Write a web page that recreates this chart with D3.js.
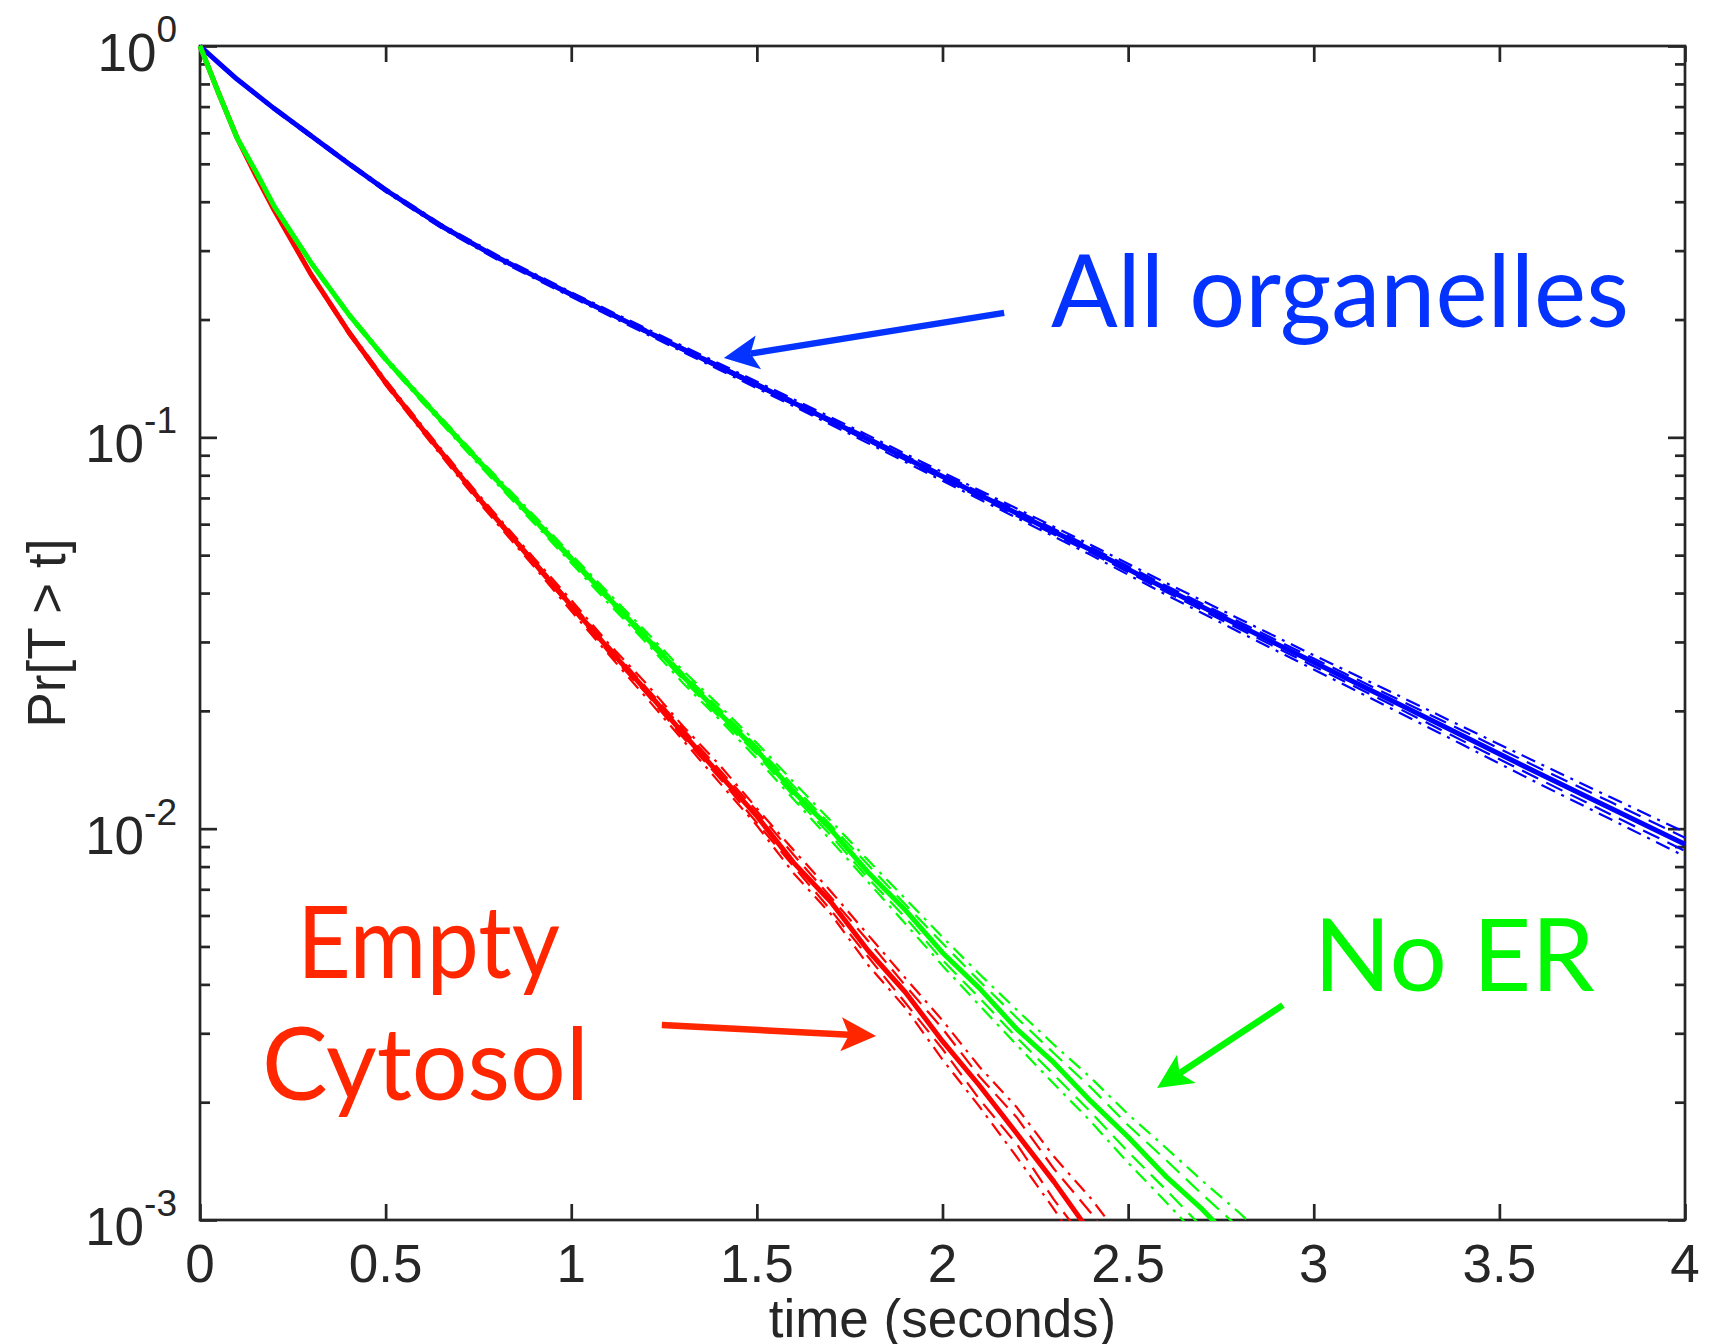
<!DOCTYPE html>
<html><head><meta charset="utf-8">
<script src="https://cdn.jsdelivr.net/npm/d3@7"></script>
<style>html,body{margin:0;padding:0;background:#fff;} svg{display:block;}</style>
</head><body>
<svg id="chart" width="1714" height="1344"></svg>
<script>
// ---------- DATA (log10 of Pr[T > t]) ----------
const blueTime = [0,0.05,0.1,0.2,0.3,0.4,0.5,0.65,0.8,1.0,1.2,1.4,1.6,1.8,2.0,2.2,2.4,2.6,2.8,3.0,3.2,3.4,3.6,3.8,4.0];
const allOrgSolid  = [0,-0.043,-0.085,-0.16,-0.23,-0.30,-0.368,-0.46,-0.54,-0.635,-0.728,-0.82,-0.912,-1.005,-1.1,-1.194,-1.288,-1.386,-1.481,-1.575,-1.668,-1.762,-1.856,-1.948,-2.04];
const allOrgDashHi = [0,-0.041,-0.083,-0.158,-0.228,-0.298,-0.365,-0.457,-0.537,-0.632,-0.724,-0.816,-0.907,-1.0,-1.094,-1.187,-1.281,-1.378,-1.472,-1.565,-1.657,-1.749,-1.842,-1.932,-2.023];
const allOrgDashLo = [0,-0.045,-0.087,-0.162,-0.232,-0.302,-0.371,-0.463,-0.543,-0.638,-0.732,-0.824,-0.917,-1.01,-1.106,-1.201,-1.295,-1.394,-1.49,-1.585,-1.679,-1.775,-1.87,-1.964,-2.057];
const allOrgDotHi  = [0,-0.04,-0.082,-0.156,-0.226,-0.296,-0.363,-0.455,-0.534,-0.629,-0.721,-0.812,-0.903,-0.995,-1.089,-1.182,-1.275,-1.371,-1.464,-1.557,-1.647,-1.739,-1.83,-1.92,-2.009];
const allOrgDotLo  = [0,-0.046,-0.088,-0.164,-0.234,-0.304,-0.373,-0.465,-0.546,-0.641,-0.735,-0.828,-0.921,-1.015,-1.111,-1.206,-1.301,-1.401,-1.498,-1.593,-1.689,-1.785,-1.882,-1.976,-2.071];

const redTime = [0,0.05,0.1,0.15,0.2,0.3,0.4,0.5,0.6,0.75,0.9,1.0,1.1,1.2,1.3,1.4,1.5,1.6,1.7,1.8,1.9,2.0,2.1,2.2,2.3,2.4,2.5];
const emptySolid  = [0,-0.12,-0.235,-0.33,-0.42,-0.585,-0.73,-0.86,-0.98,-1.155,-1.32,-1.43,-1.54,-1.645,-1.755,-1.862,-1.968,-2.088,-2.188,-2.312,-2.418,-2.543,-2.657,-2.779,-2.902,-3.035,-3.16];
const emptyDashHi = [0,-0.118,-0.233,-0.328,-0.418,-0.582,-0.727,-0.856,-0.976,-1.15,-1.314,-1.423,-1.532,-1.637,-1.744,-1.85,-1.955,-2.068,-2.176,-2.287,-2.401,-2.511,-2.634,-2.738,-2.869,-2.982,-3.11];
const emptyDashLo = [0,-0.122,-0.237,-0.332,-0.422,-0.588,-0.733,-0.864,-0.984,-1.16,-1.326,-1.437,-1.549,-1.653,-1.766,-1.871,-1.985,-2.098,-2.209,-2.328,-2.445,-2.563,-2.692,-2.806,-2.948,-3.072,-3.21];
const emptyDotHi  = [0,-0.117,-0.232,-0.326,-0.416,-0.58,-0.724,-0.853,-0.972,-1.146,-1.309,-1.416,-1.526,-1.627,-1.737,-1.838,-1.948,-2.056,-2.161,-2.272,-2.382,-2.49,-2.609,-2.712,-2.838,-2.945,-3.07];
const emptyDotLo  = [0,-0.123,-0.238,-0.334,-0.424,-0.59,-0.736,-0.867,-0.988,-1.165,-1.331,-1.444,-1.554,-1.663,-1.773,-1.883,-1.992,-2.115,-2.219,-2.349,-2.458,-2.59,-2.711,-2.839,-2.972,-3.115,-3.25];

const greenTime = [0,0.05,0.1,0.15,0.2,0.3,0.4,0.5,0.6,0.75,0.9,1.0,1.1,1.2,1.3,1.4,1.5,1.6,1.7,1.8,1.9,2.0,2.1,2.2,2.3,2.4,2.5,2.6,2.7,2.8,2.9,3.0];
const noERSolid  = [0,-0.12,-0.235,-0.32,-0.41,-0.555,-0.685,-0.8,-0.905,-1.06,-1.21,-1.31,-1.41,-1.51,-1.61,-1.706,-1.8,-1.906,-2.003,-2.112,-2.208,-2.317,-2.408,-2.512,-2.598,-2.697,-2.788,-2.887,-2.973,-3.072,-3.165,-3.26];
const noERDashHi = [0,-0.118,-0.233,-0.318,-0.408,-0.552,-0.682,-0.797,-0.901,-1.055,-1.204,-1.304,-1.403,-1.502,-1.602,-1.694,-1.79,-1.892,-1.992,-2.093,-2.194,-2.293,-2.39,-2.483,-2.574,-2.662,-2.758,-2.845,-2.935,-3.021,-3.114,-3.2];
const noERDashLo = [0,-0.122,-0.237,-0.322,-0.412,-0.558,-0.688,-0.803,-0.909,-1.065,-1.216,-1.316,-1.417,-1.518,-1.618,-1.716,-1.81,-1.918,-2.018,-2.127,-2.227,-2.336,-2.433,-2.534,-2.629,-2.725,-2.826,-2.921,-3.019,-3.115,-3.22,-3.31];
const noERDotHi  = [0,-0.117,-0.232,-0.316,-0.406,-0.55,-0.68,-0.794,-0.898,-1.052,-1.2,-1.299,-1.397,-1.495,-1.595,-1.686,-1.781,-1.882,-1.981,-2.081,-2.179,-2.277,-2.372,-2.463,-2.552,-2.637,-2.73,-2.814,-2.9,-2.982,-3.071,-3.16];
const noERDotLo  = [0,-0.123,-0.238,-0.324,-0.414,-0.56,-0.691,-0.806,-0.912,-1.069,-1.22,-1.321,-1.424,-1.523,-1.627,-1.722,-1.821,-1.926,-2.031,-2.137,-2.243,-2.35,-2.452,-2.553,-2.652,-2.749,-2.854,-2.952,-3.054,-3.154,-3.263,-3.36];

const xTicks = [0,0.5,1,1.5,2,2.5,3,3.5,4];
const xTickLabels = ["0","0.5","1","1.5","2","2.5","3","3.5","4"];
const yTickExponents = [0,-1,-2,-3];
const xTitle = "time (seconds)";
const yTitle = "Pr[T > t]";

// annotations in data coordinates [t, log10 p]
const annotations = [
  {text:"All organelles", t:2.292, lg:-0.718, len:578, color:"#0433ff"},
  {text:"No ER",          t:3.0,   lg:-2.415, len:281, color:"#00f900"},
  {text:"Empty",          t:0.261, lg:-2.382, len:263, color:"#ff2600"},
  {text:"Cytosol",        t:0.167, lg:-2.693, len:327, color:"#ff2600"}
];
const arrows = [
  {from:[2.166,-0.682], to:[1.411,-0.797], color:"#0433ff"},
  {from:[1.244,-2.502], to:[1.821,-2.530], color:"#ff2600"},
  {from:[2.917,-2.451], to:[2.578,-2.663], color:"#00f900"}
];

// ---------- LAYOUT ----------
const L = 200, R = 1685, T = 46, B = 1220;
const ink = "#262626";
const tickFont = "'Liberation Sans', Arial, Helvetica, sans-serif";
const annFont = "Lato, 'Open Sans', sans-serif";

const svg = d3.select("#chart");
const x = d3.scaleLinear().domain([0,4]).range([L,R]);
const y = d3.scaleLog().domain([1e-3,1]).range([B,T]);

// minor/major tick values for log axis
const majorY = yTickExponents.map(e => Math.pow(10,e));
const minorY = [];
for (let e=-3; e<0; e++) for (let k=2; k<=9; k++) minorY.push(k*Math.pow(10,e));

const axG = svg.append("g");
function styleAxis(g){
  g.select(".domain").remove();
  g.selectAll("line").attr("stroke",ink).attr("stroke-width",2.7);
  g.selectAll("text").remove();
}
axG.append("g").attr("transform",`translate(0,${B})`)
  .call(d3.axisBottom(x).tickValues(xTicks).tickSize(-16).tickFormat("")).call(styleAxis);
axG.append("g").attr("transform",`translate(0,${T})`)
  .call(d3.axisTop(x).tickValues(xTicks).tickSize(-16).tickFormat("")).call(styleAxis);
axG.append("g").attr("transform",`translate(${L},0)`)
  .call(d3.axisLeft(y).tickValues(majorY).tickSize(-17).tickFormat("")).call(styleAxis);
axG.append("g").attr("transform",`translate(${L},0)`)
  .call(d3.axisLeft(y).tickValues(minorY).tickSize(-10).tickFormat("")).call(styleAxis);
axG.append("g").attr("transform",`translate(${R},0)`)
  .call(d3.axisRight(y).tickValues(majorY).tickSize(-17).tickFormat("")).call(styleAxis);
axG.append("g").attr("transform",`translate(${R},0)`)
  .call(d3.axisRight(y).tickValues(minorY).tickSize(-10).tickFormat("")).call(styleAxis);
axG.append("rect").attr("x",L).attr("y",T).attr("width",R-L).attr("height",B-T)
  .attr("fill","none").attr("stroke",ink).attr("stroke-width",2.7);

// tick labels
svg.append("g").selectAll("text").data(xTicks).join("text")
  .attr("x",d=>x(d)).attr("y",B+62).attr("text-anchor","middle")
  .attr("font-family",tickFont).attr("font-size",53).attr("fill",ink)
  .text((d,i)=>xTickLabels[i]);
const yl = svg.append("g").selectAll("text").data(yTickExponents).join("text")
  .attr("x",L-23).attr("y",d=>y(Math.pow(10,d))+25).attr("text-anchor","end")
  .attr("font-family",tickFont).attr("font-size",53).attr("fill",ink);
yl.append("tspan").text("10");
yl.append("tspan").attr("dy",-29).attr("font-size",37).text(d=>String(d));

// axis titles
svg.append("text").attr("x",(L+R)/2).attr("y",1337).attr("text-anchor","middle")
  .attr("font-family",tickFont).attr("font-size",53).attr("fill",ink).text(xTitle);
svg.append("text").attr("transform",`translate(65,${(T+B)/2}) rotate(-90)`)
  .attr("text-anchor","middle").attr("font-family",tickFont).attr("font-size",53)
  .attr("fill",ink).text(yTitle);

// ---------- CURVES ----------
svg.append("clipPath").attr("id","plotclip").append("rect")
  .attr("x",L-6).attr("y",T-6).attr("width",R-L+12).attr("height",B-T+7);
const line = d3.line().x(d=>x(d[0])).y(d=>y(Math.pow(10,d[1])));
const dashPat = "18,9", dotPat = "15,7,3,7";
function group(time, arrs, color){
  return [
    {time, vals:arrs[1], color, w:2.2, dash:dashPat},
    {time, vals:arrs[2], color, w:2.2, dash:dashPat},
    {time, vals:arrs[3], color, w:2.2, dash:dotPat},
    {time, vals:arrs[4], color, w:2.2, dash:dotPat},
    {time, vals:arrs[0], color, w:5, dash:null}
  ];
}
const series = [].concat(
  group(blueTime,[allOrgSolid,allOrgDashHi,allOrgDashLo,allOrgDotHi,allOrgDotLo],"#0000ff"),
  group(redTime,[emptySolid,emptyDashHi,emptyDashLo,emptyDotHi,emptyDotLo],"#ff0000"),
  group(greenTime,[noERSolid,noERDashHi,noERDashLo,noERDotHi,noERDotLo],"#00ff00")
);
svg.append("g").attr("clip-path","url(#plotclip)").selectAll("path").data(series).join("path")
  .attr("d",s=>line(s.time.map((t,i)=>[t,s.vals[i]]).filter(d=>d[1]!==undefined)))
  .attr("fill","none").attr("stroke",s=>s.color).attr("stroke-width",s=>s.w)
  .attr("stroke-dasharray",s=>s.dash).attr("stroke-linejoin","round");

// ---------- ANNOTATIONS ----------
svg.append("g").selectAll("text").data(annotations).join("text")
  .attr("x",d=>x(d.t)).attr("y",d=>y(Math.pow(10,d.lg)))
  .attr("font-family",annFont).attr("font-size",100).attr("fill",d=>d.color)
  .attr("textLength",d=>d.len).attr("lengthAdjust","spacingAndGlyphs")
  .text(d=>d.text);

const ag = svg.append("g");
arrows.forEach(a=>{
  const sx=x(a.from[0]), sy=y(Math.pow(10,a.from[1]));
  const ex=x(a.to[0]), ey=y(Math.pow(10,a.to[1]));
  const dx=ex-sx, dy=ey-sy, len=Math.hypot(dx,dy);
  const ux=dx/len, uy=dy/len, nx=-uy, ny=ux;
  const HL=35, HW=17, NB=27;
  ag.append("line").attr("x1",sx).attr("y1",sy).attr("x2",ex-NB*ux).attr("y2",ey-NB*uy)
    .attr("stroke",a.color).attr("stroke-width",6.5);
  const pts=[[ex,ey],[ex-HL*ux+HW*nx,ey-HL*uy+HW*ny],[ex-NB*ux,ey-NB*uy],[ex-HL*ux-HW*nx,ey-HL*uy-HW*ny]];
  ag.append("path").attr("d","M"+pts.map(p=>p.join(",")).join("L")+"Z").attr("fill",a.color);
});
</script>
</body></html>
